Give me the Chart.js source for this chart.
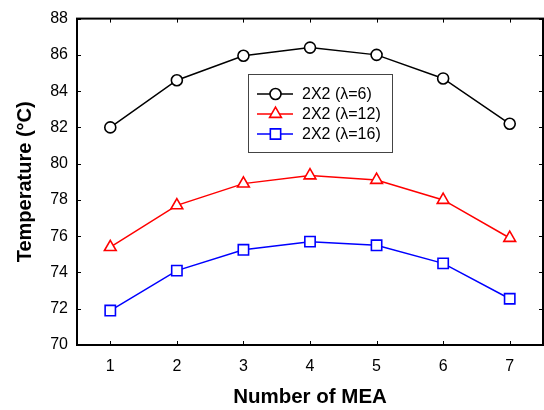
<!DOCTYPE html>
<html>
<head>
<meta charset="UTF-8">
<title>Temperature vs Number of MEA</title>
<script src="https://cdn.jsdelivr.net/npm/chart.js"></script>
<style>
  html, body { margin: 0; padding: 0; background: #fff; }
  #wrap { width: 544px; height: 410px; }
</style>
</head>
<body>
<div id="wrap"><canvas id="chart"></canvas></div>
<script>
// data
const mea = [1, 2, 3, 4, 5, 6, 7];
const tempL6 = [82.0, 84.6, 85.95, 86.4, 86.0, 84.7, 82.2];
const tempL12 = [75.4, 77.7, 78.9, 79.35, 79.1, 78.0, 75.9];
const tempL16 = [71.9, 74.1, 75.25, 75.7, 75.5, 74.5, 72.55];
const seriesNames = ['2X2 (λ=6)', '2X2 (λ=12)', '2X2 (λ=16)'];
const yTicks = [70, 72, 74, 76, 78, 80, 82, 84, 86, 88];

const FONT = 'Arial, "Liberation Sans", sans-serif';

function pts(ys) {
    return mea.map((x, i) => ({ x: x, y: ys[i] }));
}

function drawMarker(ctx, style, color, x, y, r) {
    ctx.save();
    ctx.strokeStyle = color;
    ctx.fillStyle = '#fff';
    ctx.lineWidth = 1.6;
    ctx.beginPath();
    if (style === 'circle') {
        ctx.arc(x, y, r, 0, Math.PI * 2);
    } else if (style === 'triangle') {
        ctx.moveTo(x, y - r);
        ctx.lineTo(x + r * 0.866, y + r / 2);
        ctx.lineTo(x - r * 0.866, y + r / 2);
        ctx.closePath();
    } else {
        const s = r * Math.SQRT1_2;
        ctx.rect(x - s, y - s, 2 * s, 2 * s);
    }
    ctx.fill();
    ctx.stroke();
    ctx.restore();
}

// box around plot with inward ticks on all sides, plus the legend box
const frame = {
    id: 'frame',
    afterDatasetsDraw(chart) {
        const { ctx, chartArea: a, scales } = chart;
        ctx.save();
        ctx.strokeStyle = '#000';
        ctx.lineWidth = 1;
        ctx.beginPath();
        scales.x.ticks.forEach(t => {
            const px = Math.round(scales.x.getPixelForValue(t.value)) + 0.5;
            ctx.moveTo(px, a.bottom); ctx.lineTo(px, a.bottom - 4);
            ctx.moveTo(px, a.top); ctx.lineTo(px, a.top + 4);
        });
        scales.y.ticks.forEach(t => {
            const py = Math.round(scales.y.getPixelForValue(t.value)) + 0.5;
            ctx.moveTo(a.left, py); ctx.lineTo(a.left + 4, py);
            ctx.moveTo(a.right, py); ctx.lineTo(a.right - 4, py);
        });
        ctx.stroke();
        ctx.lineWidth = 2;
        ctx.strokeRect(a.left, a.top, a.right - a.left, a.bottom - a.top);

        // legend
        const bx = 248, by = 74, bw = 144, bh = 78;
        ctx.fillStyle = '#fff';
        ctx.fillRect(bx, by, bw, bh);
        ctx.lineWidth = 1;
        ctx.strokeStyle = '#444';
        ctx.strokeRect(bx + 0.5, by + 0.5, bw, bh);
        chart.data.datasets.forEach((ds, i) => {
            const ry = 94 + i * 20;
            ctx.strokeStyle = ds.borderColor;
            ctx.lineWidth = 1.5;
            ctx.beginPath();
            ctx.moveTo(257, ry); ctx.lineTo(293, ry);
            ctx.stroke();
            drawMarker(ctx, ds.pointStyle, ds.borderColor, 275.5, ry, ds.pointRadius);
            ctx.fillStyle = '#000';
            ctx.font = '16px ' + FONT;
            ctx.textBaseline = 'middle';
            ctx.textAlign = 'left';
            ctx.fillText(ds.label, 302, ry + 1);
        });
        ctx.restore();
    }
};

const colors = ['#000000', '#ff0000', '#0000ff'];
const styles = ['circle', 'triangle', 'rect'];
const radii = [5.5, 6.8, 7.3];
const values = [tempL6, tempL12, tempL16];

new Chart(document.getElementById('chart'), {
    type: 'line',
    data: {
        datasets: values.map((v, i) => ({
            label: seriesNames[i],
            data: pts(v),
            borderColor: colors[i],
            backgroundColor: '#ffffff',
            borderWidth: 1.5,
            pointStyle: styles[i],
            pointRadius: radii[i],
            pointBorderWidth: 1.6,
            pointBackgroundColor: '#ffffff',
            pointBorderColor: colors[i],
            tension: 0
        }))
    },
    options: {
        responsive: true,
        maintainAspectRatio: false,
        animation: false,
        layout: { autoPadding: false, padding: { top: 16, right: 1, left: 0, bottom: 0 } },
        plugins: { legend: { display: false }, tooltip: { enabled: false } },
        scales: {
            x: {
                type: 'linear',
                min: 0.5,
                max: 7.5,
                afterBuildTicks: s => { s.ticks = mea.map(v => ({ value: v })); },
                afterFit: s => { s.height = 65; },
                grid: { display: false, drawTicks: false },
                border: { display: false },
                ticks: { color: '#000', font: { family: FONT, size: 16 }, padding: 12 },
                title: {
                    display: true,
                    text: 'Number of MEA',
                    color: '#000',
                    font: { family: FONT, size: 20.5, weight: 'bold' },
                    padding: { top: 6, bottom: 0 }
                }
            },
            y: {
                min: 70,
                max: 88,
                afterBuildTicks: s => { s.ticks = yTicks.map(v => ({ value: v })); },
                afterFit: s => { s.width = 77; },
                grid: { display: false, drawTicks: false },
                border: { display: false },
                ticks: { color: '#000', font: { family: FONT, size: 16 }, padding: 9 },
                title: {
                    display: true,
                    text: 'Temperature (°C)',
                    color: '#000',
                    font: { family: FONT, size: 20, weight: 'bold' },
                    padding: { top: 13, bottom: 0 }
                }
            }
        }
    },
    plugins: [frame]
});
</script>
</body>
</html>
